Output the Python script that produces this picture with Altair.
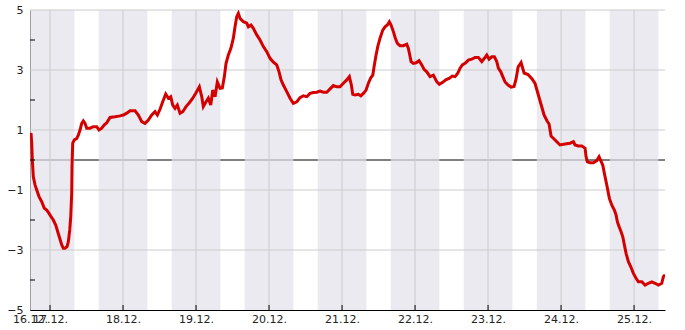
import altair as alt
import pandas as pd

# Series: hours since 17.12. 00:00 and values
hours = [-6.6, -6.25, -6.02, -5.82, -5.49, -4.93, -4.37, -3.62, -2.73, -1.87, -1.08, -0.33,
         0.33, 1.08, 1.87, 2.53, 3.19, 3.85, 4.37, 4.93, 5.59, 6.02, 6.48, 6.81, 7.13, 7.23,
         7.46, 7.99, 8.78, 9.30, 9.86, 10.42, 10.95, 11.51, 12.07, 13.15, 14.24, 15.35, 16.11,
         17.00, 17.85, 18.64, 19.73, 21.37, 23.01, 24.10, 25.22, 26.30, 27.95, 29.03, 30.15,
         31.23, 32.32, 33.44, 34.52, 35.28, 36.16, 37.05, 38.04, 38.89, 39.68, 40.34, 41.10,
         41.85, 42.74, 43.63, 44.71, 45.80, 46.92, 48.00, 49.09, 49.88, 50.40, 51.29, 52.04,
         52.83, 53.49, 54.25, 55.00, 55.89, 56.65, 57.31, 57.86, 58.62, 59.51, 60.26, 60.82,
         61.38, 61.91, 62.47, 63.55, 64.67, 65.20, 66.08, 66.84, 67.96, 69.04, 70.13, 71.25,
         72.33, 73.42, 74.53, 75.29, 75.95, 76.70, 77.82, 78.90, 79.99, 81.11, 82.19, 83.28,
         84.40, 85.48, 86.57, 87.68, 88.77, 89.85, 90.97, 92.06, 93.14, 94.26, 95.34, 96.43,
         97.55, 98.40, 99.06, 99.52, 100.27, 101.36, 102.15, 103.01, 103.89, 104.65, 105.44,
         106.10, 106.62, 107.18, 107.74, 108.49, 109.38, 110.14, 110.89, 111.55, 112.11,
         112.87, 113.52, 114.18, 115.07, 116.16, 117.27, 117.80, 118.26, 118.69, 119.44,
         120.33, 121.32, 122.21, 122.96, 123.85, 124.93, 126.02, 127.13, 127.99, 128.98,
         130.10, 131.18, 132.27, 133.15, 134.04, 134.80, 135.55, 136.44, 137.53, 138.64,
         139.73, 140.81, 141.93, 142.79, 143.58, 144.33, 145.22, 146.08, 146.86, 147.39,
         148.18, 148.84, 149.59, 150.58, 151.57, 152.55, 153.21, 153.87, 154.85, 155.84,
         157.15, 158.47, 159.45, 160.44, 161.43, 162.41, 163.40, 164.05, 164.71, 165.70,
         166.68, 167.67, 169.32, 170.96, 172.05, 172.60, 173.68, 174.80, 175.89, 176.22,
         176.65, 177.53, 178.62, 179.73, 180.49, 181.05, 181.71, 182.23, 183.02, 183.88,
         184.67, 185.52, 186.08, 186.51, 187.07, 187.73, 188.29, 188.81, 189.37, 190.13,
         190.92, 191.77, 192.66, 193.42, 194.53, 195.62, 196.70, 197.82, 198.90, 199.99,
         201.10, 201.63, 202.19]
values = [0.64, 0.9, 0.56, 0.0, -0.56, -0.83, -1.0, -1.22, -1.39, -1.61, -1.67, -1.78,
          -1.89, -2.0, -2.17, -2.39, -2.61, -2.83, -2.94, -2.94, -2.89, -2.72, -2.33, -1.89,
          -1.1, -0.22, 0.56, 0.67, 0.72, 0.83, 1.0, 1.22, 1.3, 1.22, 1.06, 1.06, 1.11, 1.11,
          1.0, 1.06, 1.17, 1.24, 1.42, 1.44, 1.47, 1.5, 1.56, 1.64, 1.64, 1.5, 1.28,
          1.22, 1.33, 1.5, 1.61, 1.5, 1.69, 1.94, 2.2, 2.06, 2.11, 1.83, 1.72,
          1.83, 1.56, 1.61, 1.78, 1.91, 2.06, 2.24, 2.44, 2.11, 1.78, 1.94, 2.06,
          1.83, 2.33, 2.11, 2.6, 2.39, 2.4, 2.78, 3.22, 3.5, 3.74, 4.06, 4.44,
          4.78, 4.89, 4.72, 4.61, 4.56, 4.44, 4.5, 4.39, 4.17, 4.0, 3.78, 3.61,
          3.39, 3.26, 3.17, 2.94, 2.67, 2.5, 2.28, 2.06, 1.89, 1.94, 2.08, 2.14,
          2.11, 2.22, 2.25, 2.26, 2.3, 2.26, 2.26, 2.37, 2.48, 2.44, 2.44, 2.56,
          2.67, 2.78, 2.5, 2.19, 2.17, 2.19, 2.14, 2.22, 2.33, 2.56, 2.74,
          2.83, 3.17, 3.5, 3.78, 4.06, 4.33, 4.44, 4.5, 4.61, 4.5,
          4.28, 4.06, 3.89, 3.81, 3.81, 3.86, 3.72, 3.5, 3.28, 3.22,
          3.24, 3.31, 3.17, 3.02, 2.94, 2.78, 2.83, 2.61, 2.52, 2.58,
          2.67, 2.72, 2.8, 2.78, 2.89, 3.06, 3.17, 3.22, 3.33, 3.36,
          3.42, 3.42, 3.28, 3.39, 3.5, 3.36, 3.44, 3.44, 3.28, 3.06,
          2.94, 2.78, 2.6, 2.5, 2.43, 2.45, 2.7, 3.1, 3.25, 2.9,
          2.85, 2.7, 2.55, 2.2, 1.85, 1.5, 1.3, 1.2, 0.8, 0.7,
          0.6, 0.5, 0.53, 0.56, 0.61, 0.5, 0.47, 0.47, 0.39, 0.11,
          -0.06, -0.09, -0.09, -0.02, 0.11, -0.02, -0.17, -0.44, -0.83, -1.28,
          -1.5, -1.67, -1.83, -2.06, -2.22, -2.39, -2.56, -2.83, -3.11, -3.39,
          -3.56, -3.78, -3.94, -4.06, -4.06, -4.17, -4.11, -4.06, -4.11, -4.17,
          -4.11, -3.89, -3.83]

# Night bands (16:00 - 08:00)
night_start = ["2023-12-16 16:00", "2023-12-17 16:00", "2023-12-18 16:00", "2023-12-19 16:00",
               "2023-12-20 16:00", "2023-12-21 16:00", "2023-12-22 16:00", "2023-12-23 16:00",
               "2023-12-24 16:00"]
night_end = ["2023-12-17 08:00", "2023-12-18 08:00", "2023-12-19 08:00", "2023-12-20 08:00",
             "2023-12-21 08:00", "2023-12-22 08:00", "2023-12-23 08:00", "2023-12-24 08:00",
             "2023-12-25 08:00"]

day_ticks = ["2023-12-17", "2023-12-18", "2023-12-19", "2023-12-20", "2023-12-21",
             "2023-12-22", "2023-12-23", "2023-12-24", "2023-12-25"]
y_grid = [5, 3, 1, -1, -3]
y_minor = [4, 2, 0, -2, -4]
y_labels = [-5, -3, -1, 1, 3, 5]

base = pd.Timestamp("2023-12-17 00:00")
df = pd.DataFrame({"t": base + pd.to_timedelta(hours, unit="h"), "v": values})
bands = pd.DataFrame({"s": pd.to_datetime(night_start), "e": pd.to_datetime(night_end)})
days = pd.DataFrame({"t": pd.to_datetime(day_ticks)})
hgrid = pd.DataFrame({"v": y_grid})
minor = pd.DataFrame({"v": y_minor})

W, H = 635, 300
xdom = [alt.DateTime(year=2023, month=12, date=16, hours=17, minutes=25),
        alt.DateTime(year=2023, month=12, date=25, hours=10, minutes=10)]
xscale = alt.Scale(domain=xdom)
yscale = alt.Scale(domain=[-5, 5], nice=False)

tick_vals = [xdom[0]] + [alt.DateTime(year=2023, month=12, date=d) for d in range(17, 26)]

xaxis = alt.Axis(values=tick_vals, format="%d.%m.", formatType="time", title=None,
                 grid=False, ticks=False, tickSize=0, labelOverlap=False, labelFlush=False,
                 labelPadding=3, labelFontSize=11, labelColor="#222222", labelFont="DejaVu Sans",
                 domainColor="#000000")
yaxis = alt.Axis(values=y_labels, title=None, grid=False, ticks=False, tickSize=0,
                 labelPadding=7, labelFontSize=11, labelColor="#222222", labelFont="DejaVu Sans",
                 domainColor="#000000")

zero = alt.Chart(pd.DataFrame({"v": [0]})).mark_rule(color="#000000", strokeWidth=1).encode(
    y=alt.Y("v:Q", scale=yscale, axis=yaxis))

band_layer = alt.Chart(bands).mark_rect(color="rgb(225,225,234)", opacity=0.7, clip=True).encode(
    x=alt.X("s:T", scale=xscale, axis=xaxis), x2="e:T")

vgrid = alt.Chart(days).mark_rule(color="#cccccc", strokeWidth=1).encode(
    x=alt.X("t:T", scale=xscale))
hgrid_layer = alt.Chart(hgrid).mark_rule(color="#cccccc", strokeWidth=1).encode(
    y=alt.Y("v:Q", scale=yscale))

line = alt.Chart(df).mark_line(color="#d40000", strokeWidth=3, clip=True).encode(
    x=alt.X("t:T", scale=xscale),
    y=alt.Y("v:Q", scale=yscale))

xticks = alt.Chart(days).mark_rule(color="#000000", strokeWidth=1).encode(
    x=alt.X("t:T", scale=xscale), y=alt.value(H - 5), y2=alt.value(H))
yticks = alt.Chart(minor).mark_rule(color="#000000", strokeWidth=1).encode(
    y=alt.Y("v:Q", scale=yscale), x=alt.value(0), x2=alt.value(5))

chart = alt.layer(zero, band_layer, vgrid, hgrid_layer, line, xticks, yticks).properties(
    width=W, height=H,
    autosize=alt.AutoSizeParams(type="none"),
    padding={"left": 30, "top": 10, "right": 20, "bottom": 20},
).configure_view(stroke=None)

chart.save("out.html", embed_options={"renderer": "svg", "actions": False})
